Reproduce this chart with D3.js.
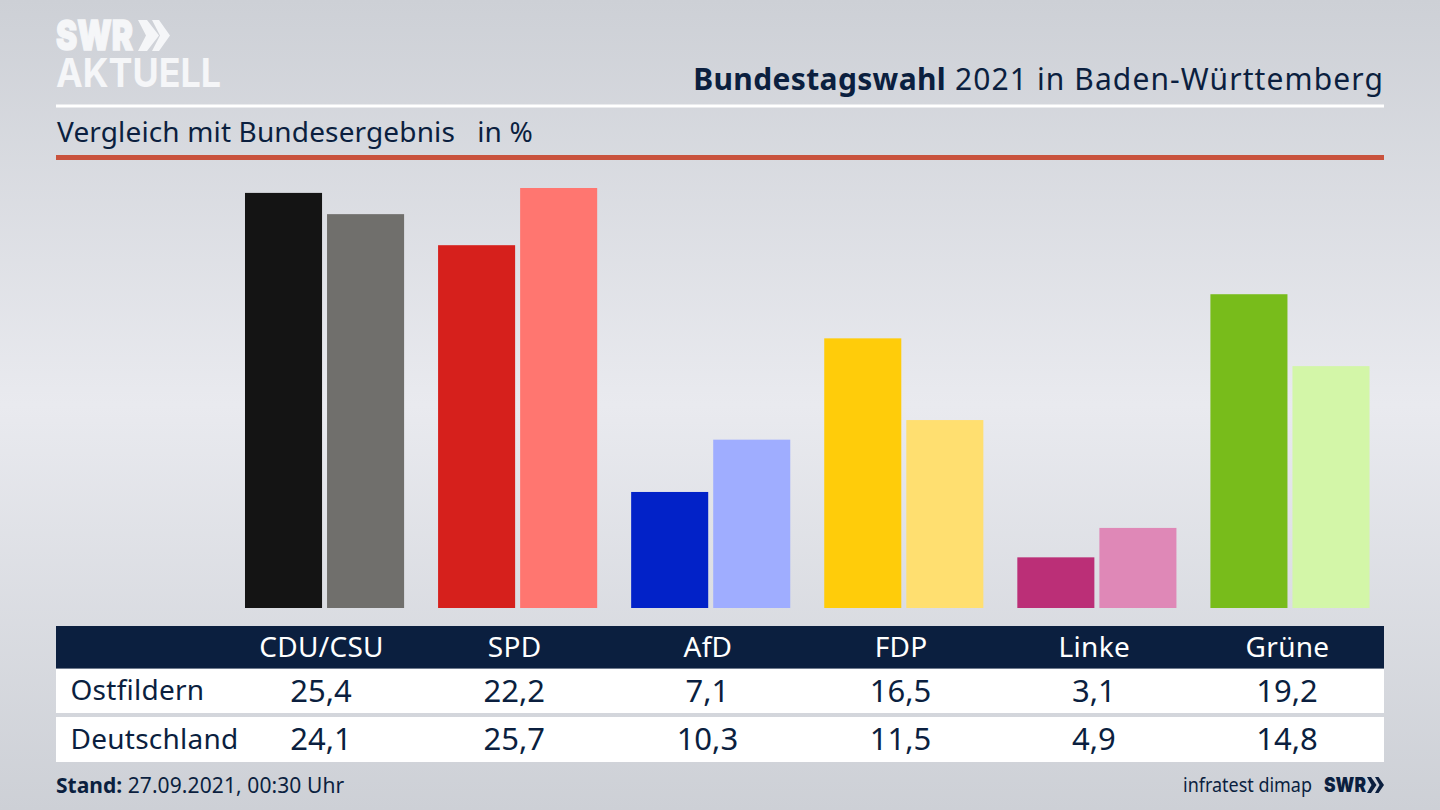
<!DOCTYPE html>
<html>
<head>
<meta charset="utf-8">
<script src="https://cdn.jsdelivr.net/npm/d3@7"></script>
<style>
  html, body { margin: 0; padding: 0; background: #d0d3d9; }
  svg { display: block; }
  text { font-family: "Noto Sans", sans-serif; fill: #0b1f3f; }
</style>
</head>
<body>
<svg id="chart" width="1440" height="810"></svg>
<script>
const categories = ['CDU/CSU', 'SPD', 'AfD', 'FDP', 'Linke', 'Grüne']
const ostfildern = [25.4, 22.2, 7.1, 16.5, 3.1, 19.2]
const deutschland = [24.1, 25.7, 10.3, 11.5, 4.9, 14.8]
const colorsOstfildern = ['#141414', '#d6201c', '#0222c8', '#ffcc0a', '#bb2f77', '#78bc1b']
const colorsDeutschland = ['#706f6c', '#ff7670', '#9fadff', '#ffdf70', '#df88b7', '#d3f6a8']
const rowNames = ['Ostfildern', 'Deutschland']

const navy = '#0b1f3f'
const fmt = v => d3.format('.1f')(v).replace('.', ',')

const svg = d3.select('#chart')

// background
const grad = svg.append('defs').append('linearGradient')
  .attr('id', 'bg').attr('x1', 0).attr('x2', 0).attr('y1', 0).attr('y2', 1)
grad.selectAll('stop')
  .data([[0, '#cdd0d6'], [0.5, '#e9eaef'], [1, '#cdd0d6']])
  .join('stop')
  .attr('offset', d => d[0])
  .attr('stop-color', d => d[1])
svg.append('rect').attr('width', 1440).attr('height', 810).attr('fill', 'url(#bg)')

// scales
const x = d3.scaleBand().domain(categories).range([228, 1386.5]).paddingInner(0.176).paddingOuter(0.088)
const inner = d3.scaleBand().domain([0, 1]).range([0, x.bandwidth()]).paddingInner(0.061)
const y = d3.scaleLinear().domain([0, 25.7]).range([608, 188])
// table columns sit a little left of the bar groups
const col = d3.scalePoint().domain(categories).range([321, 1287])

// bars
const drawBars = (values, colors, idx) => {
  svg.append('g').selectAll('rect')
    .data(values)
    .join('rect')
    .attr('x', (d, i) => x(categories[i]) + inner(idx))
    .attr('y', d => y(d))
    .attr('width', inner.bandwidth())
    .attr('height', d => y(0) - y(d))
    .attr('fill', (d, i) => colors[i])
}
drawBars(ostfildern, colorsOstfildern, 0)
drawBars(deutschland, colorsDeutschland, 1)

// header
svg.append('rect').attr('x', 56).attr('y', 104.5).attr('width', 1328).attr('height', 3).attr('fill', '#fff')
svg.append('rect').attr('x', 56).attr('y', 155).attr('width', 1328).attr('height', 5).attr('fill', '#c9523d')

const title = svg.append('text').attr('x', 1384).attr('y', 90).attr('text-anchor', 'end')
  .style('font-size', '30px')
title.append('tspan').style('font-weight', 700).style('letter-spacing', '0.35px').text('Bundestagswahl')
title.append('tspan').style('letter-spacing', '1.1px').text(' 2021 in Baden-Württemberg')

svg.append('text').attr('x', 57).attr('y', 142).style('font-size', '28px')
  .style('letter-spacing', '0.14px').style('white-space', 'pre')
  .text('Vergleich mit Bundesergebnis   in %')

// logo
const logo = svg.append('g')
logo.append('text').attr('x', 56).attr('y', 50).style('fill', '#f5f6f8')
  .style('stroke', '#f5f6f8').style('stroke-width', '1.4px')
  .style('font-family', 'Inter').style('font-weight', 900).style('font-size', '41px')
  .attr('textLength', 77).attr('lengthAdjust', 'spacingAndGlyphs').text('SWR')
logo.append('text').attr('x', 56).attr('y', 87).style('fill', '#f5f6f8')
  .style('font-family', 'Inter').style('font-weight', 700).style('font-size', '40px')
  .attr('textLength', 165).attr('lengthAdjust', 'spacingAndGlyphs').text('AKTUELL')
logo.append('path').attr('fill', '#f5f6f8')
  .attr('d', 'M138 20h9l12 15.5-12 15.5h-9l8-15.5zM152 20h7l11 15.5-11 15.5h-7l8-15.5z')

// table
const rows = [ostfildern, deutschland]
const rowTop = [669, 717]
svg.append('rect').attr('x', 56).attr('y', 626).attr('width', 1328).attr('height', 42.5).attr('fill', navy)
svg.append('g').selectAll('rect').data(rowTop).join('rect')
  .attr('x', 56).attr('y', d => d).attr('width', 1328).attr('height', d => d === 669 ? 44 : 45).attr('fill', '#fff')

const headAxis = svg.append('g').attr('transform', 'translate(0,657)')
  .call(d3.axisBottom(col).tickSize(0).tickPadding(0))
headAxis.select('.domain').remove()
headAxis.selectAll('text').attr('dy', 0).attr('y', 0)
  .style('font-size', '28px').style('letter-spacing', '0.3px')
  .style('font-family', '"Noto Sans", sans-serif').style('fill', '#fff')

rows.forEach((values, r) => {
  const base = rowTop[r] + 32
  svg.append('text').attr('x', 70.5).attr('y', base - 1 + (r ? 0.5 : 0)).style('font-size', '28px')
    .style('letter-spacing', '0.25px').text(rowNames[r])
  svg.append('g').selectAll('text').data(values).join('text')
    .attr('x', (d, i) => col(categories[i]))
    .attr('y', base + 1)
    .attr('text-anchor', 'middle')
    .style('font-size', '31px')
    .text(fmt)
})

// footer
const stand = svg.append('text').attr('x', 56).attr('y', 793).style('font-size', '21px')
stand.append('tspan').style('font-weight', 700).text('Stand:')
stand.append('tspan').style('letter-spacing', '0.1px').text(' 27.09.2021, 00:30 Uhr')
svg.append('text').attr('x', 1183).attr('y', 792).style('font-size', '20px')
  .attr('textLength', 129).attr('lengthAdjust', 'spacingAndGlyphs').text('infratest dimap')
svg.append('text').attr('x', 1324).attr('y', 792).style('font-family', 'Inter').style('font-weight', 900)
  .style('font-size', '20px').attr('textLength', 42).attr('lengthAdjust', 'spacingAndGlyphs').text('SWR')
svg.append('path').attr('fill', navy)
  .attr('d', 'M1367 777h4l5.5 8-5.5 8h-4l4.5-8zM1375 777h3.5l5.5 8-5.5 8h-3.5l4.5-8z')
</script>
</body>
</html>
